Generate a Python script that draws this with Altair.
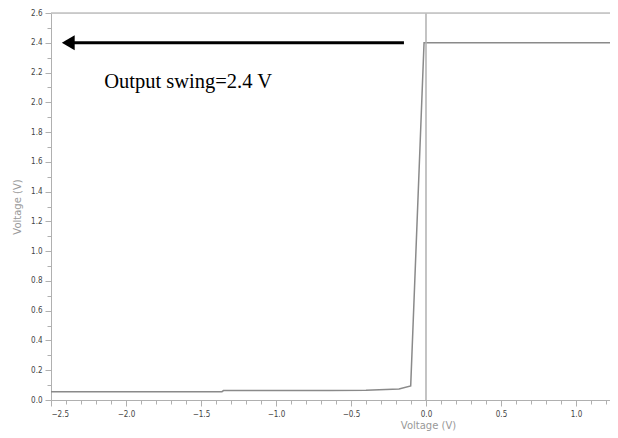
import altair as alt
import pandas as pd

# curve data
vin = [-2.5, -1.36, -1.35, -0.65, -0.4, -0.18, -0.102, -0.013, 1.2267]
vout = [0.056, 0.056, 0.063, 0.063, 0.066, 0.074, 0.094, 2.4, 2.4]

# annotation
arrow_x = [-0.147, -2.39]
arrow_y = [2.4, 2.4]
head_x = [-2.385]
label_text = ["Output swing=2.4 V"]
label_x = [-2.145]
label_y = [2.097]

xdom = [-2.5, 1.2267]
ydom = [0, 2.6]

curve = pd.DataFrame({"x": vin, "y": vout})
arrow = pd.DataFrame({"x": arrow_x, "y": arrow_y})
head = pd.DataFrame({"x": head_x, "y": [2.4]})
lab = pd.DataFrame({"x": label_x, "y": label_y, "t": label_text})
zero = pd.DataFrame({"x": [0.0], "y": [0.0]})
topline = pd.DataFrame({"x": [xdom[0]], "x2": [xdom[1]], "y": [ydom[1]]})

xmajor = "abs(datum.value*2 - round(datum.value*2)) < 0.001"
ymajor = "abs(datum.value*5 - round(datum.value*5)) < 0.001"

xvals = [round(-2.5 + 0.1 * i, 1) for i in range(38)]
yvals = [round(0.1 * i, 1) for i in range(27)]

xaxis = alt.Axis(
    values=xvals,
    labelExpr=f"{xmajor} ? format(datum.value, '.1f') : ''",
    tickSize={"condition": {"test": xmajor, "value": 6}, "value": 4},
    domainColor="#b0b0b0", tickColor="#b0b0b0", grid=False,
    labelFont="DejaVu Sans Condensed", labelFontSize=8, labelColor="#444",
    labelPadding=4, labelOverlap=False,
    title="Voltage (V)", titleFont="DejaVu Sans", titleFontSize=10,
    titleFontWeight="normal", titleColor="#999", titleX=377, titleY=20,
    titleBaseline="top",
)
yaxis = alt.Axis(
    values=yvals,
    labelExpr=f"{ymajor} ? format(datum.value, '.1f') : ''",
    tickSize={"condition": {"test": ymajor, "value": 6}, "value": 4},
    domainColor="#b0b0b0", tickColor="#b0b0b0", grid=False,
    labelFont="DejaVu Sans Condensed", labelFontSize=8, labelColor="#444",
    labelPadding=3, labelOverlap=False,
    title="Voltage (V)", titleFont="DejaVu Sans", titleFontSize=10,
    titleFontWeight="normal", titleColor="#999", titlePadding=8,
)

xs = alt.Scale(domain=xdom, nice=False, zero=False)
ys = alt.Scale(domain=ydom, nice=False, zero=False)


def X():
    return alt.X("x:Q", scale=xs, axis=xaxis)


def Y():
    return alt.Y("y:Q", scale=ys, axis=yaxis)


zline = alt.Chart(zero).mark_rule(color="#b0b0b0", strokeWidth=1.5).encode(x=X())
top = alt.Chart(topline).mark_rule(color="#c0c0c0", strokeWidth=1.5).encode(
    x=X(), x2="x2:Q", y=Y()
)

line = alt.Chart(curve).mark_line(color="#8a8a8a", strokeWidth=1.5, clip=True).encode(x=X(), y=Y())

arr = alt.Chart(arrow).mark_line(color="black", strokeWidth=3).encode(x=X(), y=Y())
hd = alt.Chart(head).mark_point(
    shape="triangle-left", filled=True, color="black", size=220, opacity=1
).encode(x=X(), y=Y())
txt = alt.Chart(lab).mark_text(
    font="Liberation Serif", fontSize=20.5, color="black", align="left", baseline="alphabetic"
).encode(x=X(), y=Y(), text="t:N")

chart = alt.layer(line, zline, top, arr, hd, txt).properties(
    width=559, height=387,
    padding={"left": 43, "top": 5, "right": 0, "bottom": 32},
    autosize=alt.AutoSizeParams(type="none"),
).configure_view(stroke=None).configure(background="white")

chart.save("out.html", embed_options={"renderer": "svg", "actions": False})
